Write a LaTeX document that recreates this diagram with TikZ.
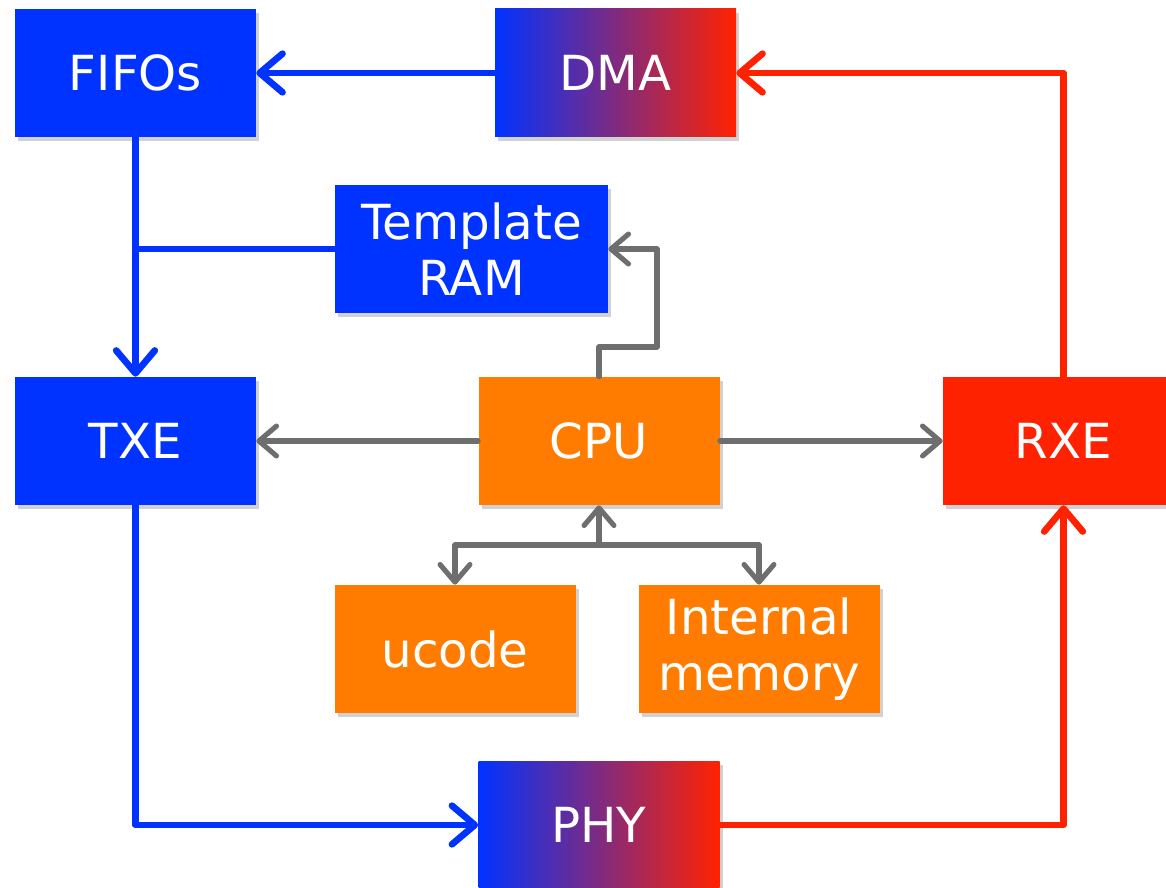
\documentclass[tikz,border=0pt]{standalone}
\usepackage{fontspec}
\setmainfont{DejaVu Sans}
\usetikzlibrary{arrows.meta,shadows}
\definecolor{hwblue}{RGB}{0, 51, 255}
\definecolor{hwred}{RGB}{255, 34, 0}
\definecolor{hworange}{RGB}{255, 124, 0}
\definecolor{hwgray}{RGB}{110, 110, 110}
\tikzset{
  bigtip/.tip={Straight Barb[length=13pt, width=22pt, round]},
  smalltip/.tip={Straight Barb[length=10pt, width=17pt, round]}
}

\begin{document}
\begin{tikzpicture}[
  every node/.style={font=\fontsize{27.5}{32}\selectfont, text=white},
  block/.style={minimum width=4.82cm, minimum height=2.56cm, inner sep=0pt, align=center,
    drop shadow={shadow xshift=0.06cm, shadow yshift=-0.08cm, opacity=0.3, fill=black!60}},
  txblock/.style={block, fill=hwblue},
  rxblock/.style={block, fill=hwred},
  cpublock/.style={block, fill=hworange},
  mixblock/.style={block, left color=hwblue, right color=hwred},
  blueline/.style={draw=hwblue, line width=3.8pt, line cap=round, line join=round},
  redline/.style={draw=hwred, line width=3.8pt, line cap=round, line join=round},
  grayline/.style={draw=hwgray, line width=2.9pt, line cap=round, line join=round}
]
\clip (0,0) rectangle (23.32,-17.76);

% Blocks
\node[txblock] (fifos) at (2.71, -1.46) {FIFOs};
\node[mixblock] (dma) at (12.31, -1.46) {DMA};
\node[txblock, minimum width=5.46cm] (tram) at (9.43, -4.98) {Template\\RAM};
\node[txblock] (txe) at (2.71, -8.82) {TXE};
\node[cpublock] (cpu) at (11.98, -8.82) {CPU};
\node[rxblock] (rxe) at (21.27, -8.82) {RXE};
\node[cpublock] (ucode) at (9.10, -12.98) {ucode};
\node[cpublock] (mem) at (15.18, -12.98) {Internal\\memory};
\node[mixblock] (phy) at (11.98, -16.5) {PHY};

\coordinate (bend) at (13.14, -6.94);
\coordinate (bus) at (11.98, -10.9);

% TX path
\draw[blueline, -bigtip] (dma) -- (fifos);
\draw[blueline, -bigtip] (fifos) -- (txe);
\draw[blueline] (tram.west) -- (tram.west -| fifos.south);
\draw[blueline, -bigtip] (txe.south) |- (phy.west);

% RX path
\draw[redline, -bigtip] (phy.east) -| (rxe.south);
\draw[redline, -bigtip] (rxe.north) |- (dma.east);

% CPU links
\draw[grayline, -smalltip] (cpu) -- (txe);
\draw[grayline, -smalltip] (cpu) -- (rxe);
\draw[grayline, -smalltip] (cpu.north) |- (bend) |- (tram.east);
\draw[grayline, smalltip-] (cpu.south) -- (bus);
\draw[grayline, -smalltip] (bus) -| (ucode.north);
\draw[grayline, -smalltip] (bus) -| (mem.north);
\end{tikzpicture}
\end{document}
